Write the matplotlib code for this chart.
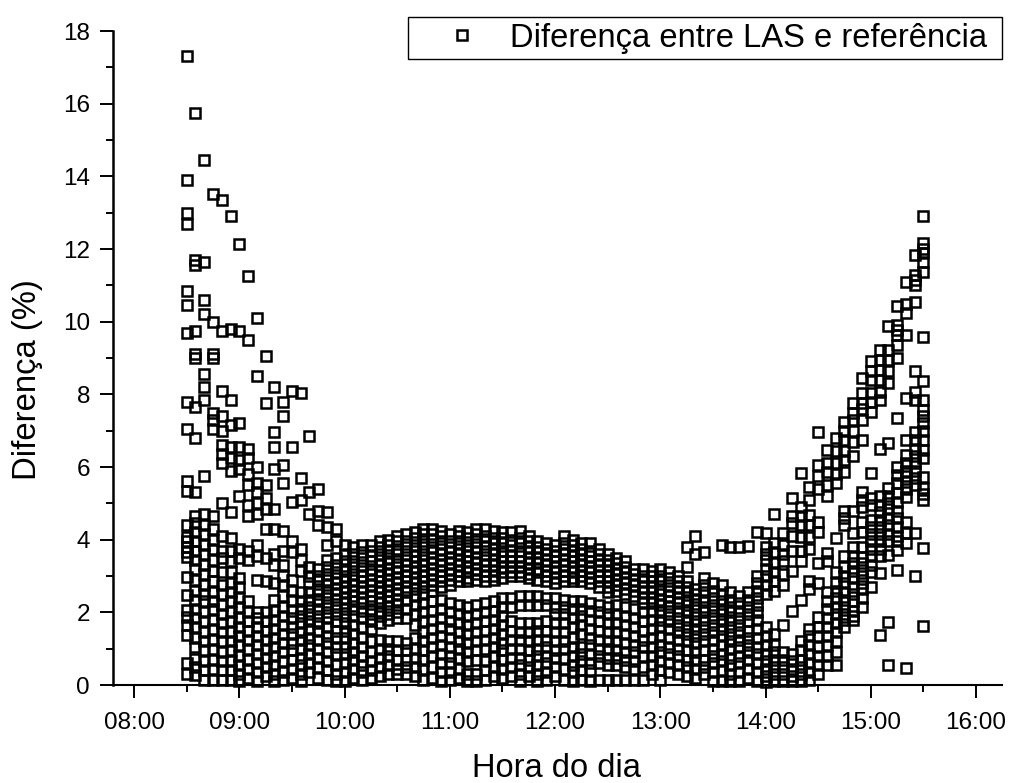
import matplotlib
matplotlib.use('Agg')
import matplotlib.pyplot as plt
from matplotlib.ticker import MultipleLocator, FuncFormatter

plt.rcParams['font.family'] = ['Liberation Sans', 'DejaVu Sans']

# values per 5 min column
d0830 = [17.3, 13.9, 13.0, 12.7, 10.85, 10.45, 9.7, 7.78, 7.05, 5.62, 5.35, 4.4, 4.08, 3.95, 3.81, 3.65, 3.53, 2.98, 2.48, 2.06, 1.88, 1.65, 1.38, 0.6, 0.3]
d0835 = [15.75, 11.7, 11.55, 9.75, 9.1, 9.0, 7.65, 6.8, 5.3, 4.65, 4.45, 4.2, 3.95, 3.7, 3.45, 3.2, 2.9, 2.6, 2.35, 2.1, 1.85, 1.6, 1.3, 1.05, 0.72, 0.5, 0.28]
d0840 = [14.45, 11.65, 10.6, 10.2, 8.55, 8.2, 7.85, 5.75, 4.7, 4.4, 4.15, 3.85, 3.6, 3.3, 3.05, 2.75, 2.5, 2.3, 2.0, 1.75, 1.45, 1.2, 0.95, 0.65, 0.4, 0.15]
d0845 = [13.5, 10.0, 9.1, 9.0, 7.5, 7.3, 7.05, 4.65, 4.3, 4.0, 3.75, 3.45, 3.15, 2.85, 2.55, 2.3, 2.1, 1.8, 1.55, 1.25, 1.0, 0.7, 0.45, 0.15]
d0850 = [13.35, 9.75, 8.1, 7.4, 7.0, 6.6, 6.35, 6.1, 5.0, 4.1, 3.7, 3.5, 3.1, 2.75, 2.5, 2.2, 1.95, 1.7, 1.45, 1.2, 0.9, 0.65, 0.4, 0.15]
d0855 = [12.9, 9.8, 7.85, 7.15, 6.55, 6.25, 5.9, 4.75, 4.05, 3.7, 3.4, 3.1, 2.8, 2.55, 2.3, 2.0, 1.75, 1.45, 1.2, 0.95, 0.65, 0.4, 0.15]
d0900 = [12.15, 9.75, 7.2, 6.55, 6.2, 5.95, 5.2, 3.75, 3.5, 2.95, 2.7, 2.4, 2.15, 1.85, 1.6, 1.35, 1.1, 0.8, 0.55, 0.3, 0.1]
d0905 = [11.25, 9.5, 6.5, 6.25, 5.8, 5.5, 4.95, 4.65, 3.7, 3.45, 2.3, 2.0, 1.75, 1.5, 1.25, 1.0, 0.7, 0.45, 0.2]
d0910 = [10.1, 8.5, 6.0, 5.55, 5.3, 5.0, 4.7, 3.85, 3.55, 2.9, 2.0, 1.85, 1.6, 1.35, 1.1, 0.85, 0.6, 0.35, 0.12]
d0915 = [9.05, 7.75, 5.5, 5.15, 4.85, 4.3, 3.5, 2.85, 2.0, 1.75, 1.5, 1.25, 1.0, 0.75, 0.5, 0.25]
d0920 = [8.2, 6.95, 6.55, 5.95, 4.85, 4.3, 3.6, 3.3, 2.8, 2.35, 2.05, 1.8, 1.55, 1.3, 1.05, 0.8, 0.55, 0.3, 0.1]
d0925 = [7.8, 7.4, 6.05, 5.55, 4.25, 3.7, 3.3, 3.0, 2.75, 2.45, 2.15, 1.9, 1.65, 1.4, 1.15, 0.9, 0.65, 0.35, 0.15]
d0930 = [8.1, 6.55, 5.05, 3.95, 3.65, 2.9, 2.6, 2.35, 2.05, 1.85, 1.6, 1.4, 1.15, 0.95, 0.7, 0.45, 0.2]
d0935 = [8.05, 5.7, 5.1, 3.75, 3.45, 3.15, 2.55, 2.3, 2.1, 1.9, 1.7, 1.45, 1.25, 1.0, 0.75, 0.55, 0.3, 0.1]
d0940 = [6.85, 5.3, 4.7, 3.25, 3.0, 2.8, 2.55, 2.35, 2.15, 1.95, 1.75, 1.55, 1.3, 1.1, 0.85, 0.6, 0.35]
d0945 = [5.4, 4.8, 4.4, 3.2, 3.0, 2.85, 2.65, 2.5, 2.3, 2.1, 1.9, 1.7, 1.5, 1.25, 1.0, 0.75, 0.5, 0.2]
d0950 = [4.75, 4.35, 3.85, 3.45, 3.25, 3.05, 2.9, 2.75, 2.55, 2.4, 2.2, 2.0, 1.85, 1.6, 1.35, 1.15, 0.9, 0.65, 0.4, 0.15]
d0955 = [4.3, 3.95, 3.5, 3.3, 3.1, 2.95, 2.8, 2.65, 2.5, 2.35, 2.15, 1.95, 1.75, 1.5, 1.3, 1.05, 0.85, 0.55, 0.3, 0.1]
d1000 = [3.85, 3.6, 3.4, 3.2, 3.0, 2.85, 2.7, 2.55, 2.4, 2.25, 2.1, 1.9, 1.7, 1.5, 1.3, 1.05, 0.85, 0.6, 0.35, 0.1]
d1005 = [3.8, 3.6, 3.4, 3.25, 3.05, 2.9, 2.75, 2.6, 2.45, 2.3, 2.1, 1.9, 1.65, 1.4, 1.15, 0.9, 0.7, 0.45, 0.2]
d1010 = [3.85, 3.65, 3.5, 3.3, 3.15, 3.0, 2.85, 2.7, 2.55, 2.4, 2.25, 2.05, 1.85, 1.6, 1.3, 1.05, 0.8, 0.55, 0.35, 0.15]
d1015 = [3.85, 3.7, 3.55, 3.4, 3.2, 3.05, 2.9, 2.75, 2.6, 2.45, 2.3, 2.1, 1.95, 1.75, 1.55, 1.2, 0.9, 0.65, 0.4, 0.2]
d1020 = [3.95, 3.8, 3.6, 3.45, 3.3, 3.15, 3.0, 2.85, 2.7, 2.55, 2.4, 2.25, 2.05, 1.9, 1.7, 1.25, 1.0, 0.75, 0.5, 0.25]
d1025 = [4.0, 3.85, 3.7, 3.5, 3.35, 3.2, 3.05, 2.9, 2.75, 2.6, 2.45, 2.3, 2.15, 1.95, 1.8, 1.2, 1.0, 0.8, 0.55, 0.3]
d1030 = [4.1, 3.95, 3.75, 3.6, 3.4, 3.25, 3.1, 2.95, 2.8, 2.65, 2.5, 2.35, 2.2, 2.0, 1.85, 1.2, 0.95, 0.7, 0.45, 0.3]
d1035 = [4.15, 3.95, 3.8, 3.6, 3.45, 3.3, 3.15, 3.0, 2.85, 2.7, 2.55, 2.35, 2.1, 1.85, 1.15, 0.95, 0.7, 0.5, 0.3]
d1040 = [4.2, 4.05, 3.85, 3.7, 3.55, 3.4, 3.25, 3.1, 2.95, 2.8, 2.65, 2.45, 2.2, 1.95, 1.65, 1.3, 1.0, 0.75, 0.5, 0.25]
d1045 = [4.3, 4.15, 3.95, 3.8, 3.6, 3.45, 3.3, 3.15, 3.0, 2.85, 2.7, 2.5, 2.25, 2.0, 1.75, 1.45, 1.2, 0.95, 0.7, 0.45, 0.15]
d1050 = [4.3, 4.15, 4.0, 3.8, 3.65, 3.5, 3.35, 3.2, 3.05, 2.9, 2.75, 2.6, 2.3, 2.05, 1.8, 1.55, 1.3, 1.05, 0.8, 0.5, 0.2]
d1055 = [4.25, 4.1, 3.9, 3.75, 3.6, 3.45, 3.3, 3.15, 3.0, 2.85, 2.7, 2.35, 2.1, 1.85, 1.6, 1.35, 1.1, 0.85, 0.6, 0.35, 0.12]
d1100 = [4.15, 3.95, 3.8, 3.65, 3.5, 3.35, 3.2, 3.05, 2.9, 2.75, 2.25, 2.0, 1.75, 1.55, 1.3, 1.05, 0.8, 0.6, 0.35, 0.15]
d1105 = [4.25, 4.1, 3.9, 3.75, 3.6, 3.45, 3.3, 3.15, 3.0, 2.85, 2.2, 1.95, 1.7, 1.45, 1.2, 1.0, 0.75, 0.45, 0.2]
d1110 = [4.2, 4.05, 3.85, 3.7, 3.55, 3.4, 3.25, 3.1, 2.95, 2.85, 2.15, 1.9, 1.65, 1.4, 1.15, 0.9, 0.65, 0.3, 0.1]
d1115 = [4.3, 4.15, 3.95, 3.8, 3.65, 3.5, 3.35, 3.2, 3.05, 2.9, 2.2, 1.95, 1.7, 1.45, 1.2, 0.95, 0.7, 0.3, 0.12]
d1120 = [4.3, 4.1, 3.95, 3.8, 3.6, 3.45, 3.3, 3.15, 3.0, 2.85, 2.25, 2.0, 1.75, 1.5, 1.25, 1.0, 0.65, 0.4, 0.15]
d1125 = [4.25, 4.05, 3.9, 3.75, 3.6, 3.45, 3.3, 3.15, 3.0, 2.9, 2.3, 2.05, 1.8, 1.55, 1.3, 1.05, 0.8, 0.5, 0.25]
d1130 = [4.2, 4.05, 3.9, 3.7, 3.55, 3.4, 3.25, 3.1, 2.95, 2.4, 2.15, 1.9, 1.65, 1.4, 1.15, 0.95, 0.7, 0.45, 0.2]
d1135 = [4.2, 4.0, 3.85, 3.7, 3.55, 3.4, 3.25, 3.1, 3.0, 2.4, 2.15, 1.75, 1.5, 1.25, 1.0, 0.75, 0.5, 0.25]
d1140 = [4.25, 4.05, 3.9, 3.7, 3.55, 3.4, 3.25, 3.1, 3.0, 2.45, 2.2, 1.7, 1.45, 1.25, 1.0, 0.75, 0.55, 0.3, 0.1]
d1145 = [4.1, 3.95, 3.8, 3.65, 3.5, 3.35, 3.2, 3.05, 2.95, 2.45, 2.2, 1.7, 1.45, 1.2, 0.95, 0.7, 0.5, 0.25]
d1150 = [3.95, 3.8, 3.65, 3.5, 3.35, 3.2, 3.1, 2.9, 2.45, 2.2, 1.7, 1.5, 1.25, 1.0, 0.8, 0.55, 0.3, 0.1]
d1155 = [3.9, 3.75, 3.6, 3.45, 3.3, 3.15, 3.0, 2.85, 2.4, 2.2, 1.75, 1.5, 1.25, 1.05, 0.8, 0.6, 0.35, 0.15]
d1200 = [3.85, 3.7, 3.55, 3.4, 3.25, 3.1, 2.95, 2.8, 2.4, 2.15, 1.95, 1.7, 1.45, 1.2, 0.95, 0.75, 0.5, 0.25]
d1205 = [4.1, 3.9, 3.75, 3.6, 3.45, 3.3, 3.15, 3.0, 2.85, 2.35, 2.15, 1.95, 1.7, 1.45, 1.2, 1.0, 0.75, 0.45, 0.15]
d1210 = [4.0, 3.85, 3.7, 3.55, 3.4, 3.25, 3.1, 2.95, 2.85, 2.3, 2.1, 1.85, 1.6, 1.3, 1.05, 0.8, 0.55, 0.35, 0.12]
d1215 = [3.9, 3.75, 3.6, 3.45, 3.3, 3.15, 3.0, 2.85, 2.3, 2.1, 1.9, 1.65, 1.4, 1.05, 0.85, 0.65, 0.4, 0.15]
d1220 = [3.9, 3.7, 3.55, 3.4, 3.25, 3.1, 2.95, 2.8, 2.25, 2.05, 1.8, 1.55, 1.3, 1.1, 0.85, 0.6, 0.4, 0.12]
d1225 = [3.75, 3.6, 3.45, 3.3, 3.15, 3.0, 2.85, 2.7, 2.2, 2.0, 1.75, 1.5, 1.25, 1.0, 0.8, 0.6, 0.15]
d1230 = [3.6, 3.45, 3.3, 3.15, 3.0, 2.85, 2.7, 2.55, 2.15, 1.95, 1.7, 1.45, 1.2, 1.0, 0.75, 0.55, 0.15]
d1235 = [3.5, 3.35, 3.2, 3.05, 2.9, 2.75, 2.6, 2.2, 1.95, 1.7, 1.45, 1.2, 0.95, 0.75, 0.55, 0.15]
d1240 = [3.4, 3.25, 3.1, 2.95, 2.8, 2.65, 2.5, 2.15, 1.9, 1.65, 1.4, 1.15, 0.9, 0.7, 0.5, 0.15]
d1245 = [3.2, 3.05, 2.9, 2.75, 2.6, 2.45, 2.1, 1.85, 1.6, 1.35, 1.1, 0.9, 0.65, 0.45, 0.15]
d1250 = [3.2, 3.0, 2.85, 2.7, 2.55, 2.4, 2.25, 2.0, 1.75, 1.5, 1.25, 1.05, 0.8, 0.5, 0.15]
d1255 = [3.15, 3.0, 2.85, 2.7, 2.55, 2.4, 2.25, 2.05, 1.8, 1.55, 1.3, 1.05, 0.8, 0.55, 0.3]
d1300 = [3.2, 3.0, 2.85, 2.65, 2.5, 2.35, 2.2, 2.0, 1.8, 1.6, 1.35, 1.1, 0.9, 0.65, 0.4, 0.15]
d1305 = [3.1, 2.95, 2.75, 2.6, 2.45, 2.3, 2.15, 1.95, 1.75, 1.55, 1.3, 1.05, 0.85, 0.6, 0.35]
d1310 = [3.0, 2.85, 2.7, 2.55, 2.4, 2.25, 2.05, 1.85, 1.65, 1.45, 1.25, 1.0, 0.8, 0.55, 0.3]
d1315 = [3.8, 3.25, 2.85, 2.7, 2.55, 2.35, 2.2, 2.0, 1.8, 1.6, 1.4, 1.2, 0.95, 0.7, 0.5, 0.25]
d1320 = [4.1, 3.6, 2.65, 2.5, 2.35, 2.15, 1.95, 1.75, 1.55, 1.35, 1.15, 0.9, 0.7, 0.45, 0.2]
d1325 = [3.65, 2.95, 2.75, 2.55, 2.35, 2.15, 2.0, 1.8, 1.6, 1.4, 1.2, 0.95, 0.7, 0.5, 0.3]
d1330 = [2.8, 2.6, 2.4, 2.2, 2.05, 1.85, 1.65, 1.45, 1.25, 1.0, 0.8, 0.6, 0.35, 0.12]
d1335 = [3.85, 2.75, 2.5, 2.3, 2.1, 1.95, 1.75, 1.55, 1.35, 1.1, 0.85, 0.65, 0.4, 0.12]
d1340 = [3.8, 2.55, 2.35, 2.15, 2.0, 1.8, 1.6, 1.4, 1.2, 1.0, 0.75, 0.55, 0.3, 0.1]
d1345 = [3.8, 2.45, 2.25, 2.05, 1.85, 1.65, 1.45, 1.25, 1.05, 0.8, 0.6, 0.35, 0.12]
d1350 = [3.82, 2.55, 2.35, 2.15, 1.95, 1.75, 1.5, 1.3, 1.1, 0.9, 0.7, 0.45, 0.2]
d1355 = [4.2, 3.0, 2.8, 2.6, 2.4, 2.2, 2.0, 1.8, 1.55, 1.3, 1.05, 0.85, 0.6, 0.35, 0.12]
d1400 = [4.18, 3.8, 3.6, 3.45, 3.2, 3.0, 2.75, 2.5, 1.6, 1.35, 1.1, 0.85, 0.65, 0.45, 0.25, 0.08]
d1405 = [4.7, 3.9, 3.65, 3.35, 3.1, 2.85, 2.6, 1.4, 1.1, 0.9, 0.7, 0.5, 0.3, 0.1]
d1410 = [4.18, 3.85, 3.6, 3.4, 3.05, 2.75, 1.65, 0.9, 0.7, 0.5, 0.3, 0.12]
d1415 = [5.15, 4.65, 4.45, 4.1, 3.7, 3.15, 2.05, 0.85, 0.65, 0.45, 0.25, 0.1]
d1420 = [5.84, 4.9, 4.65, 4.4, 4.08, 3.7, 3.4, 2.33, 1.2, 0.95, 0.7, 0.5, 0.3, 0.1]
d1425 = [5.46, 5.1, 4.68, 4.4, 4.08, 3.75, 2.85, 2.65, 1.55, 1.35, 1.1, 0.85, 0.6, 0.35, 0.15]
d1430 = [6.95, 6.05, 5.75, 5.4, 4.5, 4.2, 3.35, 2.8, 1.88, 1.6, 1.35, 1.05, 0.8, 0.55, 0.3]
d1435 = [6.47, 6.1, 5.85, 5.5, 5.2, 3.62, 3.4, 2.55, 2.3, 2.1, 1.85, 1.6, 1.35, 1.1, 0.8, 0.55]
d1440 = [6.8, 6.45, 6.1, 5.8, 5.55, 4.05, 3.12, 2.8, 2.6, 2.4, 2.15, 1.95, 1.7, 1.45, 1.2, 0.9, 0.55]
d1445 = [7.25, 7.0, 6.74, 6.45, 6.2, 5.85, 4.8, 4.6, 4.4, 3.55, 3.25, 3.0, 2.8, 2.55, 2.35, 2.15, 1.95, 1.8, 1.6]
d1450 = [7.75, 7.48, 7.28, 7.0, 6.7, 6.3, 4.8, 4.18, 3.8, 3.55, 3.35, 3.15, 2.95, 2.7, 2.5, 2.3, 2.05, 1.9, 1.78]
d1455 = [8.46, 8.03, 7.75, 7.6, 7.3, 6.74, 5.3, 5.1, 4.9, 4.5, 4.2, 3.8, 3.53, 3.35, 3.17, 3.0, 2.8, 2.65, 2.4, 2.15]
d1500 = [8.92, 8.63, 8.4, 8.03, 7.8, 7.52, 5.83, 5.15, 4.95, 4.55, 4.35, 4.15, 3.95, 3.75, 3.55, 3.3, 3.1, 2.7]
d1505 = [9.22, 8.95, 8.68, 8.4, 8.07, 7.85, 6.5, 5.2, 4.95, 4.75, 4.55, 4.35, 4.15, 3.95, 3.75, 3.55, 3.09, 1.38]
d1510 = [9.88, 9.22, 8.95, 8.63, 8.3, 6.65, 5.41, 5.2, 5.0, 4.85, 4.6, 4.4, 4.15, 3.95, 3.58, 1.74, 0.55]
d1515 = [10.44, 9.9, 9.77, 9.63, 9.36, 9.0, 7.35, 6.01, 5.78, 5.55, 5.28, 5.05, 4.8, 4.6, 4.35, 4.1, 3.95, 3.72, 3.17]
d1520 = [11.1, 10.5, 10.23, 9.63, 7.9, 6.74, 6.33, 6.1, 5.9, 5.75, 5.6, 5.4, 5.18, 4.5, 4.18, 3.9, 0.48]
d1525 = [11.83, 11.28, 11.15, 11.0, 10.55, 8.64, 8.07, 7.85, 6.97, 6.75, 6.5, 6.3, 6.1, 5.9, 5.7, 5.5, 4.18, 3.0]
d1530 = [12.9, 12.16, 12.0, 11.88, 11.65, 11.38, 9.59, 8.37, 7.85, 7.57, 7.4, 7.2, 7.0, 6.74, 6.47, 6.25, 5.73, 5.41, 5.25, 5.09, 3.78, 1.63]

times = ['08:30', '08:35', '08:40', '08:45', '08:50', '08:55',
         '09:00', '09:05', '09:10', '09:15', '09:20', '09:25', '09:30', '09:35', '09:40', '09:45', '09:50', '09:55',
         '10:00', '10:05', '10:10', '10:15', '10:20', '10:25', '10:30', '10:35', '10:40', '10:45', '10:50', '10:55',
         '11:00', '11:05', '11:10', '11:15', '11:20', '11:25', '11:30', '11:35', '11:40', '11:45', '11:50', '11:55',
         '12:00', '12:05', '12:10', '12:15', '12:20', '12:25', '12:30', '12:35', '12:40', '12:45', '12:50', '12:55',
         '13:00', '13:05', '13:10', '13:15', '13:20', '13:25', '13:30', '13:35', '13:40', '13:45', '13:50', '13:55',
         '14:00', '14:05', '14:10', '14:15', '14:20', '14:25', '14:30', '14:35', '14:40', '14:45', '14:50', '14:55',
         '15:00', '15:05', '15:10', '15:15', '15:20', '15:25', '15:30']
columns = [d0830, d0835, d0840, d0845, d0850, d0855,
           d0900, d0905, d0910, d0915, d0920, d0925, d0930, d0935, d0940, d0945, d0950, d0955,
           d1000, d1005, d1010, d1015, d1020, d1025, d1030, d1035, d1040, d1045, d1050, d1055,
           d1100, d1105, d1110, d1115, d1120, d1125, d1130, d1135, d1140, d1145, d1150, d1155,
           d1200, d1205, d1210, d1215, d1220, d1225, d1230, d1235, d1240, d1245, d1250, d1255,
           d1300, d1305, d1310, d1315, d1320, d1325, d1330, d1335, d1340, d1345, d1350, d1355,
           d1400, d1405, d1410, d1415, d1420, d1425, d1430, d1435, d1440, d1445, d1450, d1455,
           d1500, d1505, d1510, d1515, d1520, d1525, d1530]

def to_hours(label):
    h, m = label.split(':')
    return int(h) + int(m) / 60

xs = []
ys = []
for t, col in zip(times, columns):
    for v in col:
        xs.append(to_hours(t))
        ys.append(v)

fig = plt.figure(figsize=(10.14, 7.83), dpi=100)
ax = fig.add_axes([113 / 1014, 1 - 685 / 783, (1002 - 113) / 1014, (685 - 31) / 783])

ax.plot(xs, ys, linestyle='none', marker='s', markersize=7.0, markerfacecolor='none',
        markeredgecolor='black', markeredgewidth=1.8, clip_on=False,
        label='Diferença entre LAS e referência')

ax.set_xlim(7.8, 16.247)
ax.set_ylim(0, 18)
ax.spines['top'].set_visible(False)
ax.spines['right'].set_visible(False)
ax.spines['left'].set_linewidth(1.8)
ax.spines['bottom'].set_linewidth(1.5)

ax.xaxis.set_major_locator(MultipleLocator(1))
ax.xaxis.set_minor_locator(MultipleLocator(0.5))
ax.yaxis.set_major_locator(MultipleLocator(2))
ax.yaxis.set_minor_locator(MultipleLocator(1))
ax.xaxis.set_major_formatter(FuncFormatter(lambda v, pos: f'{int(round(v)):02d}:00'))
ax.tick_params(which='major', length=9.5, width=1.4, labelsize=17.5)
ax.tick_params(which='minor', length=5, width=1.4)
ax.tick_params(axis='x', which='major', pad=10)
ax.tick_params(axis='y', which='major', pad=7)

fig.text(556 / 1014, 1 - 777 / 783, 'Hora do dia', fontsize=23.5, ha='center', va='baseline')
fig.text(28 / 1014, 1 - 380 / 783, 'Diferença (%)', fontsize=23.7, ha='center', va='center', rotation=90)

# mode expand keeps the frame as wide as the reference one
leg = ax.legend(loc='upper left', bbox_to_anchor=(408 / 1014, 1 - 59 / 783, 594 / 1014, 42 / 783),
                bbox_transform=fig.transFigure, mode='expand',
                borderaxespad=0, fancybox=False, framealpha=1, edgecolor='black', fontsize=23.6,
                numpoints=1, handlelength=2.95, handletextpad=0.0, borderpad=0.17)
leg.get_frame().set_linewidth(1.0)

fig.savefig('out.png', dpi=100)
